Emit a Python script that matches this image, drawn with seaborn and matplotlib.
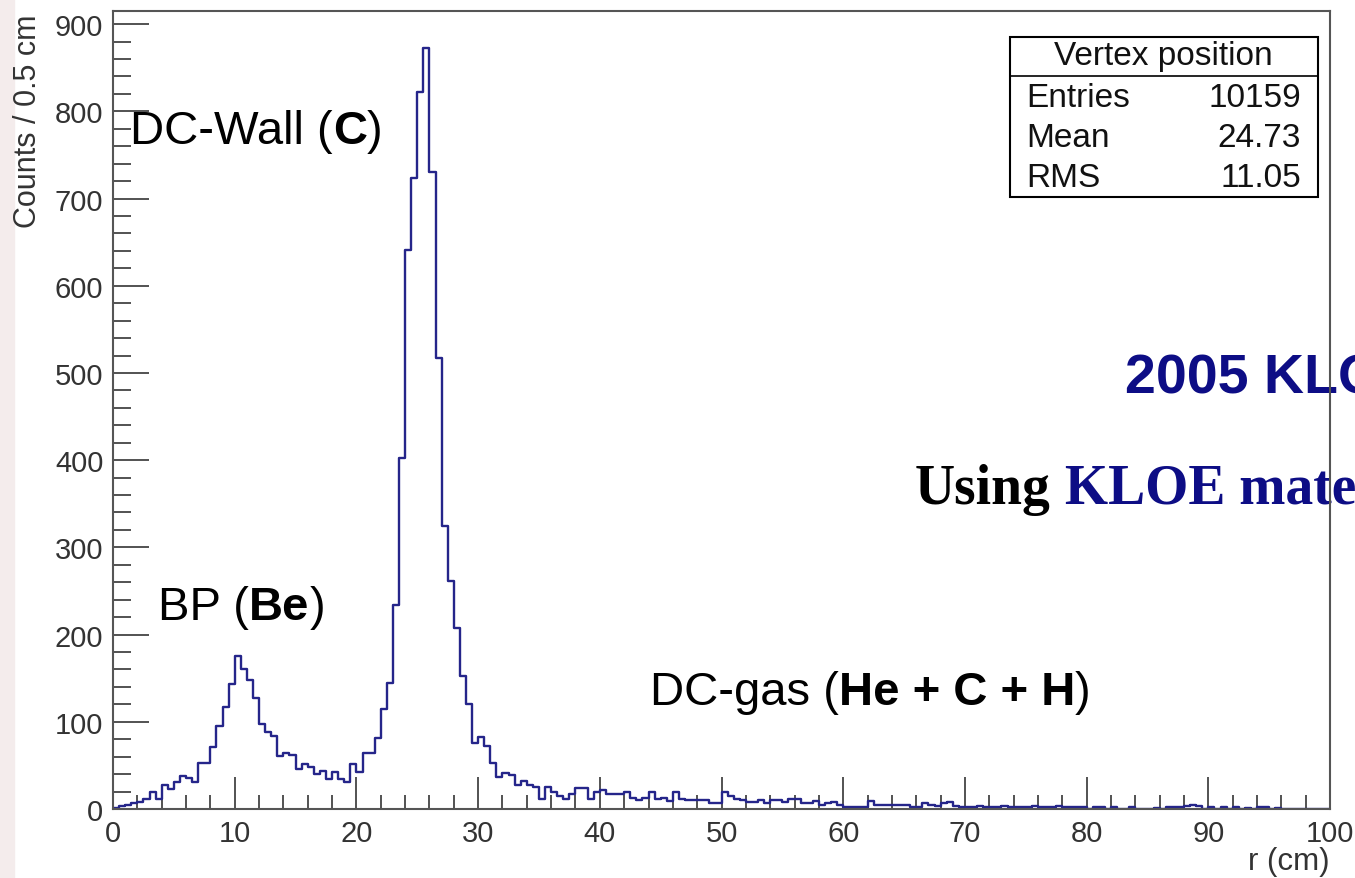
import numpy as np
import pandas as pd
import matplotlib
matplotlib.use("Agg")
import matplotlib.pyplot as plt
import seaborn as sns
from matplotlib.ticker import MultipleLocator
from matplotlib.patches import Rectangle

# Vertex position histogram, counts per 0.5 cm bin, 10 cm per list
counts_00_10 = [1, 3, 5, 7, 8, 12, 20, 12, 27, 23, 31, 38, 35, 31, 53, 53, 71, 95, 117, 143]
counts_10_20 = [175, 160, 148, 127, 98, 88, 84, 61, 64, 62, 46, 52, 48, 40, 44, 34, 42, 34, 31, 52]
counts_20_30 = [42, 64, 64, 81, 115, 144, 234, 402, 641, 724, 822, 873, 731, 517, 325, 262, 207, 152, 120, 76]
counts_30_40 = [83, 72, 53, 37, 41, 39, 28, 32, 27, 25, 11, 25, 19, 15, 12, 17, 24, 24, 11, 19]
counts_40_50 = [22, 17, 17, 17, 20, 13, 10, 13, 20, 11, 13, 9, 20, 11, 10, 10, 10, 10, 7, 7]
counts_50_60 = [19, 15, 12, 10, 8, 8, 10, 7, 10, 10, 8, 11, 11, 7, 7, 9, 5, 7, 8, 5]
counts_60_70 = [2, 2, 2, 2, 9, 5, 5, 5, 5, 5, 5, 2, 2, 7, 5, 3, 7, 8, 3, 2]
counts_70_80 = [2, 2, 3, 2, 2, 2, 3, 2, 2, 2, 2, 3, 2, 2, 2, 3, 2, 2, 2, 2]
counts_80_90 = [0, 2, 2, 0, 2, 0, 0, 2, 0, 0, 0, 1, 0, 2, 2, 2, 3, 5, 3, 0]
counts_90_100 = [2, 0, 2, 0, 2, 0, 1, 0, 2, 2, 0, 1, 0, 0, 0, 0, 0, 0, 0, 0]

bin_width = 0.5
r_min, r_max = 0, 100

# stats box
stats_title = "Vertex position"
stats_labels = ["Entries", "Mean", "RMS"]
stats_values = ["10159", "24.73", "11.05"]

counts = (counts_00_10 + counts_10_20 + counts_20_30 + counts_30_40 + counts_40_50
          + counts_50_60 + counts_60_70 + counts_70_80 + counts_80_90 + counts_90_100)
edges = np.arange(r_min, r_max + bin_width, bin_width)
df = pd.DataFrame({"r": edges[:-1] + bin_width / 2, "n": counts})

sns.set_style("white")
plt.rcParams["font.family"] = ["Liberation Sans", "DejaVu Sans"]

fig = plt.figure(figsize=(13.55, 8.79), dpi=100)
ax = fig.add_axes([0.0834, 0.0785, 0.8982, 0.9078])

# faint slide decoration at the left edge
fig.patches.append(Rectangle((0, 0), 14 / 1355, 1, transform=fig.transFigure,
                             color="#f4ecec", zorder=0))

sns.histplot(data=df, x="r", weights="n", binwidth=bin_width, binrange=(r_min, r_max),
             element="step", fill=False, color="#25258a", linewidth=1.7, ax=ax)
ax.set_xlim(r_min, r_max)
ax.set_ylim(0, 915)
ax.set_xlabel("")
ax.set_ylabel("")

# ROOT-like axes: inner ticks on left/bottom only
ax.xaxis.set_major_locator(MultipleLocator(10))
ax.xaxis.set_minor_locator(MultipleLocator(2))
ax.yaxis.set_major_locator(MultipleLocator(100))
ax.yaxis.set_minor_locator(MultipleLocator(20))
ax.tick_params(which="both", direction="in", bottom=True, left=True, top=False, right=False,
               color="#444444", width=1.3, labelcolor="#333333", labelsize=21)
ax.tick_params(axis="x", which="major", length=23, pad=7)
ax.tick_params(axis="x", which="minor", length=10)
ax.tick_params(axis="y", which="major", length=26, pad=7)
ax.tick_params(axis="y", which="minor", length=13)
for s in ax.spines.values():
    s.set_color("#555555")
    s.set_linewidth(1.5)
    s.set_zorder(10)

fig.text(28 / 1355, 1 - 14 / 879, "Counts / 0.5 cm", rotation=90, ha="center", va="top",
         fontsize=22, color="#333333")
fig.text(1330 / 1355, 1 - 862 / 879, "r (cm)", ha="right", va="center",
         fontsize=22.5, color="#333333")


def piece_text(first, parts, **kw):
    # chain text pieces left to right after the first one
    t = first
    for s, w, c in parts:
        t = ax.annotate(s, xy=(1, 0), xycoords=t, va="bottom", fontweight=w, color=c, **kw)
    return t


# peak labels
lab_kw = dict(fontsize=34, color="black")
t = ax.text(1.4, 778, "DC-Wall (", va="center", **lab_kw)
piece_text(t, [("C", "bold", "black"), (")", "normal", "black")], fontsize=34)
t = ax.text(3.7, 232, "BP (", va="center", **lab_kw)
piece_text(t, [("Be", "bold", "black"), (")", "normal", "black")], fontsize=34)
t = ax.text(44.1, 134, "DC-gas (", va="center", **lab_kw)
piece_text(t, [("He + C + H", "bold", "black"), (")", "normal", "black")], fontsize=34)

# stats box
box = Rectangle((0.737, 0.767), 0.253, 0.200, transform=ax.transAxes, facecolor="white",
                edgecolor="black", linewidth=1.5, zorder=5)
ax.add_patch(box)
ax.plot([0.737, 0.990], [0.918, 0.918], transform=ax.transAxes, color="black", lw=1.2, zorder=6)
ax.text(0.863, 0.944, stats_title, transform=ax.transAxes, ha="center", va="center",
        fontsize=24, color="#111111", zorder=7)
for i, (lab, val) in enumerate(zip(stats_labels, stats_values)):
    yy = 0.892 - i * 0.0505
    ax.text(0.750, yy, lab, transform=ax.transAxes, ha="left", va="center", fontsize=24,
            color="#111111", zorder=7)
    ax.text(0.976, yy, val, transform=ax.transAxes, ha="right", va="center", fontsize=24,
            color="#111111", zorder=7)

# slide text cut off at the right edge, sitting under the plot frame
navy = "#0d0d85"
ax.text(1125 / 1355, 1 - 380 / 879, "2005 KLOE", transform=fig.transFigure, ha="left",
        va="center", fontsize=40, fontweight="bold", color=navy, clip_on=False, zorder=2)
serif = ["Liberation Serif", "DejaVu Serif"]
t = ax.text(915 / 1355, 1 - 490 / 879, "Using", transform=fig.transFigure, ha="left",
            va="center", fontsize=40, fontweight="bold", family=serif, color="black",
            clip_on=False, zorder=2)
a = piece_text(t, [(" KLOE material", "bold", navy)], fontsize=40, family=serif)
a.set_zorder(2)

fig.savefig("out.png", dpi=100)
